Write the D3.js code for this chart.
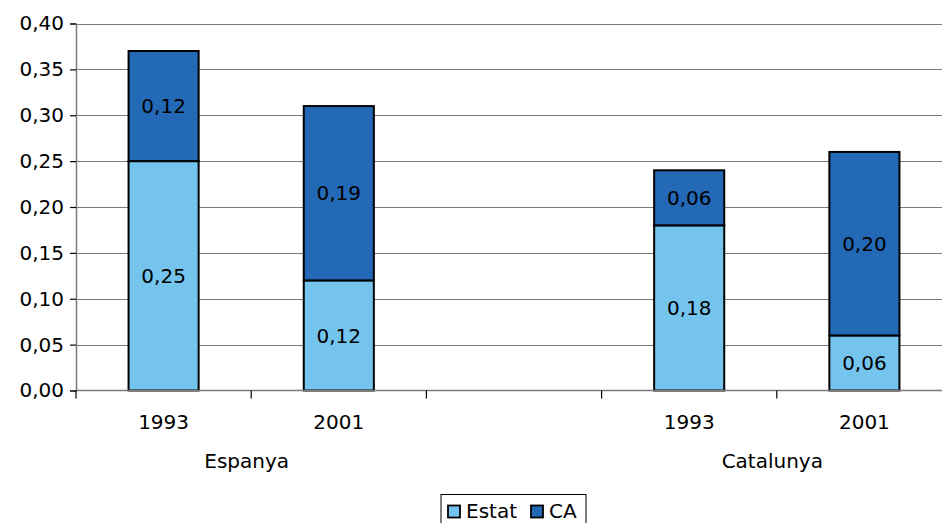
<!DOCTYPE html>
<html>
<head>
<meta charset="utf-8">
<script src="https://cdn.jsdelivr.net/npm/d3@7"></script>
<style>
  html, body { margin: 0; padding: 0; background: #fff; }
  svg { display: block; }
  text { font-family: Verdana, "DejaVu Sans", sans-serif; fill: #000; }
</style>
</head>
<body>
<svg id="chart" width="942" height="523"></svg>
<script>
// Slots along the x axis (the middle one is an empty spacer between groups)
const slots = ["esp1993", "esp2001", "gap", "cat1993", "cat2001"];
const years = ["1993", "2001", "", "1993", "2001"];
const groups = [
  { name: "Espanya", slots: ["esp1993", "esp2001"] },
  { name: "Catalunya", slots: ["cat1993", "cat2001"] }
];
const seriesNames = ["Estat", "CA"];
const estat = [0.25, 0.12, null, 0.18, 0.06];
const ca = [0.12, 0.19, null, 0.06, 0.20];
const yTicks = [0, 0.05, 0.10, 0.15, 0.20, 0.25, 0.30, 0.35, 0.40];
const colors = ["#74C4EE", "#2369B5"];

const FS = 20;
const svg = d3.select("#chart");
const margin = { left: 76, top: 23.5, right: -10, bottom: 132.5 };
const W = 942, H = 523;

const x = d3.scaleBand().domain(slots).range([margin.left, W - margin.right]).paddingInner(0).paddingOuter(0);
const y = d3.scaleLinear().domain([0, 0.40]).range([H - margin.bottom, margin.top]);
const fmt = v => d3.format(".2f")(v).replace(".", ",");

// Horizontal gridlines
svg.append("g").selectAll("line").data(yTicks.slice(1)).join("line")
  .attr("x1", margin.left).attr("x2", W - margin.right)
  .attr("y1", d => Math.round(y(d)) + 0.5).attr("y2", d => Math.round(y(d)) + 0.5)
  .attr("stroke", "#7a7a7a").attr("stroke-width", 1.2);

// Stacked data
const rows = slots.map((s, i) => ({ slot: s, Estat: estat[i], CA: ca[i] })).filter(r => r.Estat != null);
const stack = d3.stack().keys(seriesNames)(rows);
const bw = x.bandwidth() * 0.4;

stack.forEach((layer, li) => {
  const g = svg.append("g");
  g.selectAll("rect").data(layer).join("rect")
    .attr("x", d => x(d.data.slot) + (x.bandwidth() - bw) / 2)
    .attr("y", d => y(d[1]))
    .attr("width", bw)
    .attr("height", d => y(d[0]) - y(d[1]))
    .attr("fill", colors[li])
    .attr("stroke", "#000").attr("stroke-width", 2);
  g.selectAll("text").data(layer).join("text")
    .attr("x", d => x(d.data.slot) + x.bandwidth() / 2)
    .attr("y", d => (y(d[0]) + y(d[1])) / 2)
    .attr("dy", "0.36em")
    .attr("text-anchor", "middle")
    .attr("font-size", FS)
    .text(d => fmt(d[1] - d[0]));
});

// Y axis
const yAxis = d3.axisLeft(y).tickValues(yTicks).tickFormat(fmt).tickSize(6).tickPadding(6);
const gy = svg.append("g").attr("transform", `translate(${margin.left},0)`).call(yAxis);
gy.select(".domain").attr("stroke", "#7a7a7a").attr("stroke-width", 1.5);
gy.selectAll(".tick line").attr("stroke", "#000").attr("stroke-width", 1.2);
gy.selectAll(".tick text").attr("font-size", FS).attr("font-family", "Verdana, 'DejaVu Sans', sans-serif").attr("fill", "#000");

// X axis baseline and slot separators
const base = y(0);
svg.append("line").attr("x1", margin.left).attr("x2", W - margin.right)
  .attr("y1", base).attr("y2", base).attr("stroke", "#7a7a7a").attr("stroke-width", 1.5);
const sepX = slots.map(s => x(s)).concat([x(slots[slots.length - 1]) + x.bandwidth()]);
svg.append("g").selectAll("line").data(sepX).join("line")
  .attr("x1", d => d).attr("x2", d => d)
  .attr("y1", base).attr("y2", base + 8)
  .attr("stroke", "#000").attr("stroke-width", 1.2);

// Year labels
svg.append("g").selectAll("text").data(slots.map((s, i) => ({ s, t: years[i] })).filter(d => d.t)).join("text")
  .attr("x", d => x(d.s) + x.bandwidth() / 2)
  .attr("y", base + 31)
  .attr("dy", "0.36em")
  .attr("text-anchor", "middle").attr("font-size", FS)
  .text(d => d.t);

// Group labels
svg.append("g").selectAll("text").data(groups).join("text")
  .attr("x", d => (x(d.slots[0]) + x(d.slots[1]) + x.bandwidth()) / 2 - 4.5)
  .attr("y", base + 70)
  .attr("dy", "0.36em")
  .attr("text-anchor", "middle").attr("font-size", FS)
  .text(d => d.name);

// Legend (box runs past the bottom edge of the page)
const lg = svg.append("g").attr("transform", "translate(441,494.5)");
lg.append("rect").attr("x", 0).attr("y", 0).attr("width", 145).attr("height", 40)
  .attr("fill", "#fff").attr("stroke", "#000").attr("stroke-width", 1);
const items = [{ n: seriesNames[0], c: colors[0], x: 7 }, { n: seriesNames[1], c: colors[1], x: 90 }];
items.forEach(it => {
  lg.append("rect").attr("x", it.x).attr("y", 11).attr("width", 12).attr("height", 12)
    .attr("fill", it.c).attr("stroke", "#000").attr("stroke-width", 1.8);
  lg.append("text").attr("x", it.x + 18).attr("y", 16).attr("dy", "0.36em")
    .attr("font-size", FS).text(it.n);
});
</script>
</body>
</html>
